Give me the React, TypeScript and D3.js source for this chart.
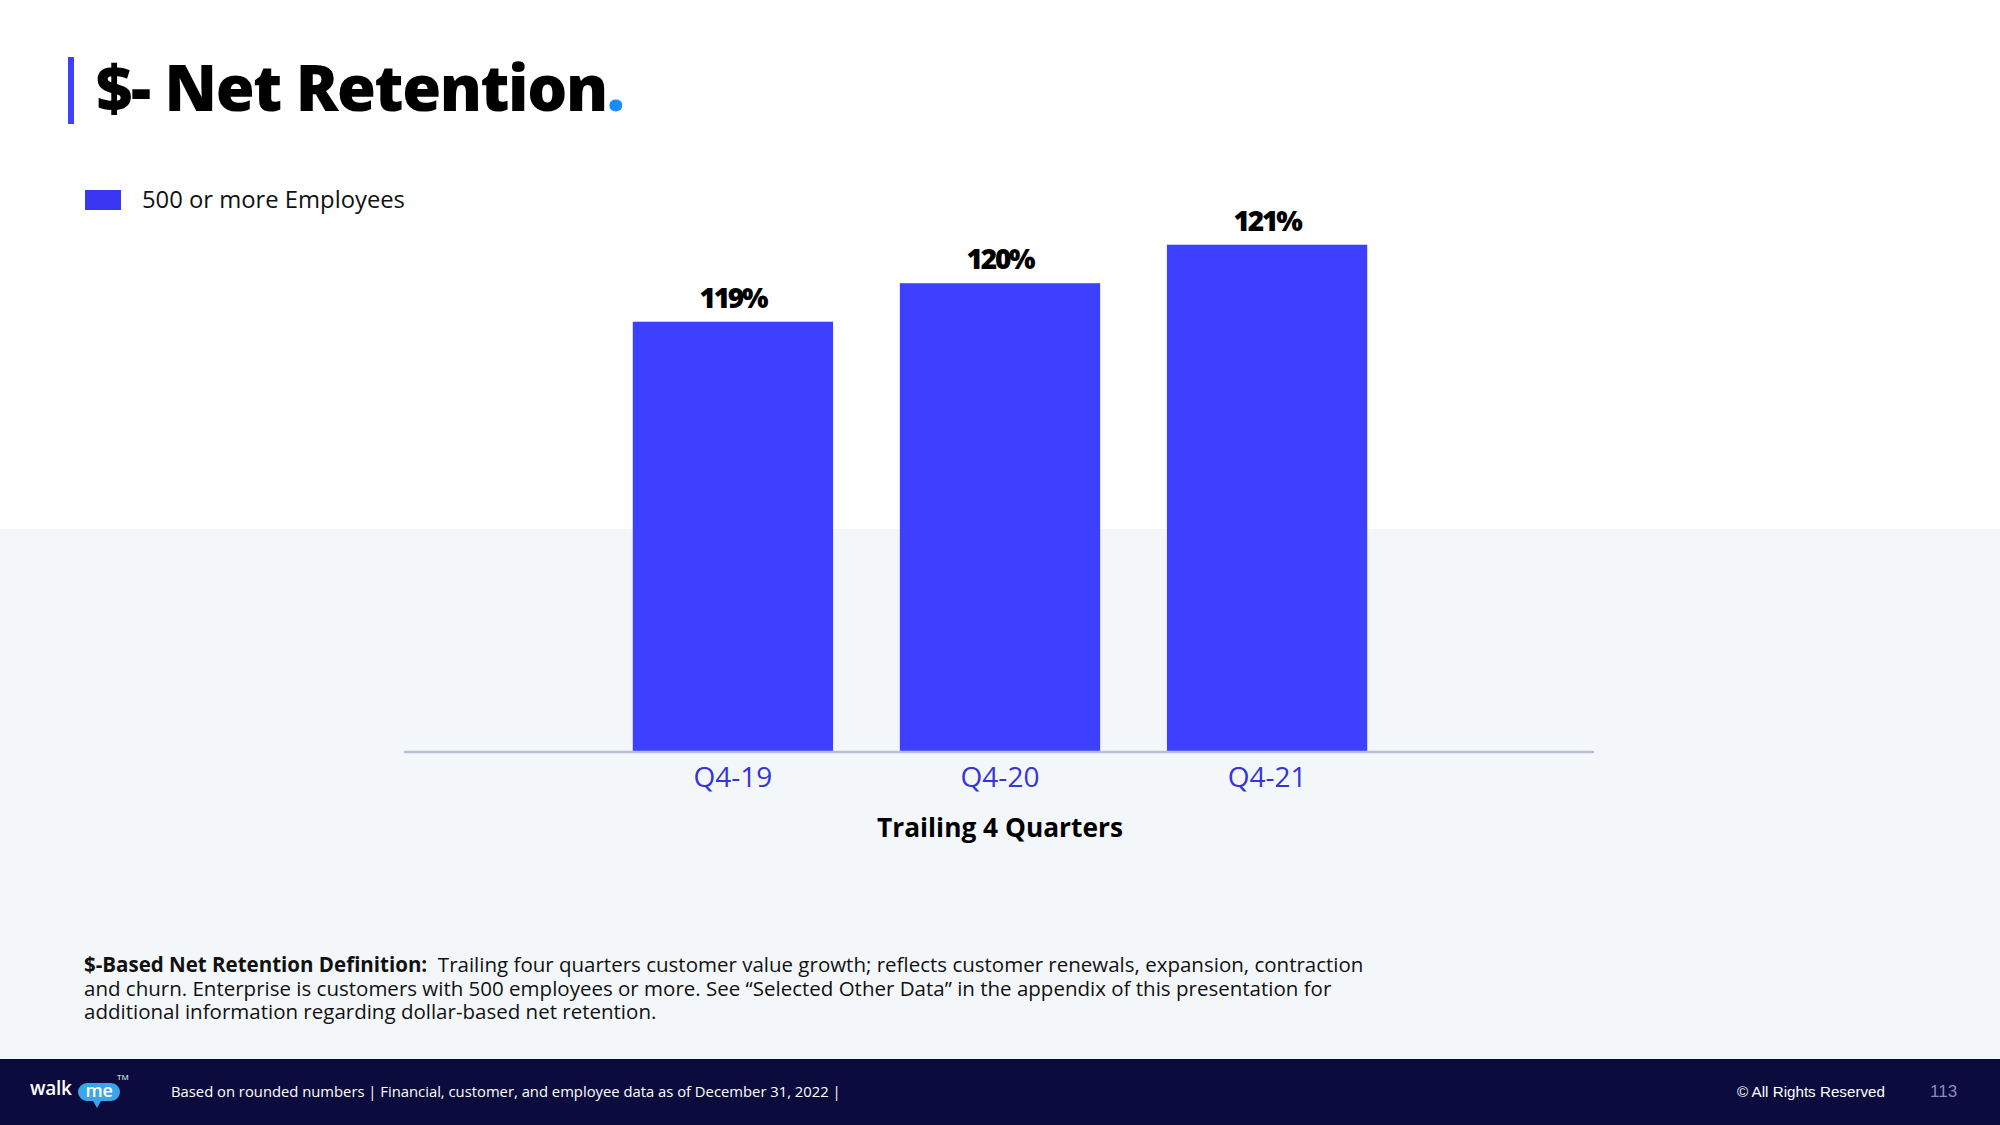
import React from "react";
import * as d3 from "d3";

const categories = ["Q4-19", "Q4-20", "Q4-21"];
const values = [119, 120, 121];
const valueLabels = ["119%", "120%", "121%"];
const seriesName = "500 or more Employees";
const axisTitle = "Trailing 4 Quarters";
const titleText = "$- Net Retention";
const defBold = "$-Based Net Retention Definition:";
const defLines = [
  "Trailing four quarters customer value growth; reflects customer renewals, expansion, contraction",
  "and churn. Enterprise is customers with 500 employees or more. See \u201CSelected Other Data\u201D in the appendix of this presentation for",
  "additional information regarding dollar-based net retention.",
];
const footerText = "Based on rounded numbers | Financial, customer, and employee data as of December 31, 2022 |";
const rightsText = "\u00A9 All Rights Reserved";
const pageNum = "113";

const W = 2000;
const H = 1125;
const BAR = "#3d41ff";
const FONT = "'Open Sans', 'Noto Sans', sans-serif";

export default function App() {
  const baseline = 751;
  const x = d3
    .scaleBand<string>()
    .domain(categories)
    .range([566, 1434])
    .paddingInner(0.25)
    .paddingOuter(0.25);
  const y = d3.scaleLinear().domain([107.85, 122]).range([baseline, baseline - 38.5 * 14.15]);

  return (
    <svg width={W} height={H} style={{ position: "absolute", left: 0, top: 0, display: "block" }}>
      <rect x={0} y={0} width={W} height={H} fill="#ffffff" />
      <rect x={0} y={529} width={W} height={530} fill="#f4f7fa" />
      <rect x={0} y={1059} width={W} height={66} fill="#0b0b3d" />

      {/* title */}
      <rect x={68} y={57} width={6} height={67} fill={BAR} />
      <text x={96} y={111} fontFamily={FONT} fontWeight={800} fontSize={63} fill="#000" letterSpacing={-1.4}>
        {titleText}
        <tspan fill="#1a8cff">.</tspan>
      </text>

      {/* legend */}
      <rect x={85} y={190} width={36} height={20} fill="#3a37f2" />
      <text x={142} y={208} fontFamily={FONT} fontSize={23.8} fill="#111">
        {seriesName}
      </text>

      {/* bars */}
      {categories.map((c, i) => (
        <g key={c}>
          <rect x={x(c)} y={y(values[i])} width={x.bandwidth()} height={baseline - y(values[i])} fill={BAR} />
          <text
            x={(x(c) as number) + x.bandwidth() / 2}
            y={y(values[i]) - 14}
            textAnchor="middle"
            fontFamily={FONT}
            fontWeight={800}
            fontSize={28}
            fill="#000"
            letterSpacing={-2.2}
          >
            {valueLabels[i]}
          </text>
          <text
            x={(x(c) as number) + x.bandwidth() / 2}
            y={787}
            textAnchor="middle"
            fontFamily={FONT}
            fontSize={28}
            fill="#3535d8"
          >
            {c}
          </text>
        </g>
      ))}
      <line x1={404} x2={1594} y1={752} y2={752} stroke="#b9bdd6" strokeWidth={2.5} />
      <text x={1000} y={837} textAnchor="middle" fontFamily={FONT} fontWeight={700} fontSize={26.3} fill="#000">
        {axisTitle}
      </text>

      {/* definition */}
      <text x={84} y={972} fontFamily={FONT} fontSize={20.5} fill="#111">
        <tspan fontWeight={700}>{defBold}</tspan>
        <tspan>{"\u00A0 " + defLines[0]}</tspan>
        <tspan x={84} dy={23.5}>{defLines[1]}</tspan>
        <tspan x={84} dy={23.5}>{defLines[2]}</tspan>
      </text>

      {/* footer logo */}
      <g>
        <text x={30} y={1095} fontFamily={FONT} fontWeight={600} fontSize={19} fill="#fff" letterSpacing={-0.3}>
          walk
        </text>
        <path d="M 87 1083 h 24 a 9 9 0 0 1 9 9 v 0 a 9 9 0 0 1 -9 9 h -10 l -4 7 l -4 -7 h -6 a 9 9 0 0 1 -9 -9 v 0 a 9 9 0 0 1 9 -9 z" fill="#3aa6ea" />
        <text x={99} y={1097} textAnchor="middle" fontFamily={FONT} fontWeight={600} fontSize={18} fill="#fff" letterSpacing={-0.3}>
          me
        </text>
        <text x={117} y={1080} fontFamily={FONT} fontSize={8} fill="#fff">
          TM
        </text>
      </g>
      <text x={171} y={1097} fontFamily={FONT} fontSize={14.8} fill="#fff">
        {footerText}
      </text>
      <text x={1737} y={1097} fontFamily="'Liberation Sans', sans-serif" fontSize={15.2} fill="#fff">
        {rightsText}
      </text>
      <text x={1930} y={1097} fontFamily="'Liberation Sans', sans-serif" fontSize={17} fill="#8a8ac6">
        {pageNum}
      </text>
    </svg>
  );
}
